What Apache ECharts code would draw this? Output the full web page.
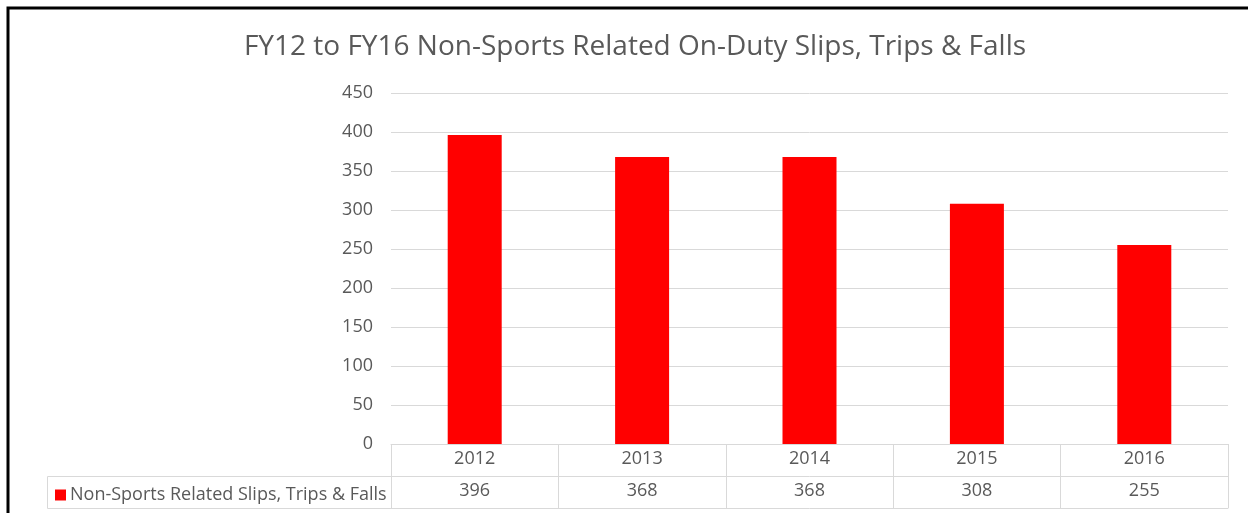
<!DOCTYPE html>
<html>
<head>
<meta charset="utf-8">
<script src="https://cdn.jsdelivr.net/npm/echarts@6/dist/echarts.min.js"></script>
<style>
  html, body { margin: 0; padding: 0; background: #fff; }
  #chart { width: 1248px; height: 513px; }
</style>
</head>
<body>
<div id="chart"></div>
<script>
// data
const years = ['2012', '2013', '2014', '2015', '2016'];
const slipsTripsFalls = [396, 368, 368, 308, 255];
const seriesName = 'Non-Sports Related Slips, Trips & Falls';
const yTicks = { min: 0, max: 450, interval: 50 };

const gray = '#595959';
const lineGray = '#d9d9d9';
const font = '"Open Sans", Lato, sans-serif';

const chart = echarts.init(document.getElementById('chart'));

const option = {
  animation: false,
  title: {
    text: 'FY12 to FY16 Non-Sports Related On-Duty Slips, Trips & Falls',
    left: 630,
    textAlign: 'center',
    top: 28,
    textStyle: { color: gray, fontSize: 28, fontWeight: 'normal', fontFamily: font },
  },
  legend: {
    left: 50,
    top: 481,
    itemWidth: 11,
    itemHeight: 11,
    itemGap: 5,
    icon: 'rect',
    textStyle: { color: gray, fontSize: 18, fontFamily: font, padding: [0, 0, 0, -1] },
    data: [seriesName],
  },
  grid: { left: 391, right: 20, top: 93, bottom: 69 },
  xAxis: [
    {
      type: 'category',
      data: years,
      axisLine: { show: true, lineStyle: { color: lineGray } },
      axisTick: { show: true, length: 64, lineStyle: { color: lineGray } },
      axisLabel: { color: gray, fontSize: 18, fontFamily: font, margin: 6 },
    },
    {
      // value row of the data table
      type: 'category',
      position: 'bottom',
      offset: 32,
      data: slipsTripsFalls.map(String),
      axisLine: { show: true, lineStyle: { color: lineGray } },
      axisTick: { show: false },
      axisLabel: { color: gray, fontSize: 18, fontFamily: font, margin: 6 },
    },
    {
      // bottom border of the table
      type: 'category',
      position: 'bottom',
      offset: 64,
      data: years,
      axisLine: { show: true, lineStyle: { color: lineGray } },
      axisTick: { show: false },
      axisLabel: { show: false },
    },
  ],
  yAxis: {
    type: 'value',
    min: yTicks.min,
    max: yTicks.max,
    interval: yTicks.interval,
    axisLine: { show: false },
    axisTick: { show: false },
    splitLine: { lineStyle: { color: lineGray } },
    axisLabel: { color: gray, fontSize: 18, fontFamily: font, margin: 18 },
  },
  graphic: [
    {
      // outer frame
      type: 'rect',
      shape: { x: 8, y: 8, width: 1300, height: 600 },
      style: { fill: 'none', stroke: '#000', lineWidth: 3 },
    },
    {
      // legend cell of the data table
      type: 'rect',
      shape: { x: 47.5, y: 476.5, width: 344, height: 32 },
      style: { fill: 'none', stroke: lineGray, lineWidth: 1 },
    },
  ],
  series: [
    {
      name: seriesName,
      type: 'bar',
      xAxisIndex: 0,
      barWidth: 54,
      itemStyle: { color: '#ff0000' },
      data: slipsTripsFalls,
    },
  ],
};

chart.setOption(option);
</script>
</body>
</html>
